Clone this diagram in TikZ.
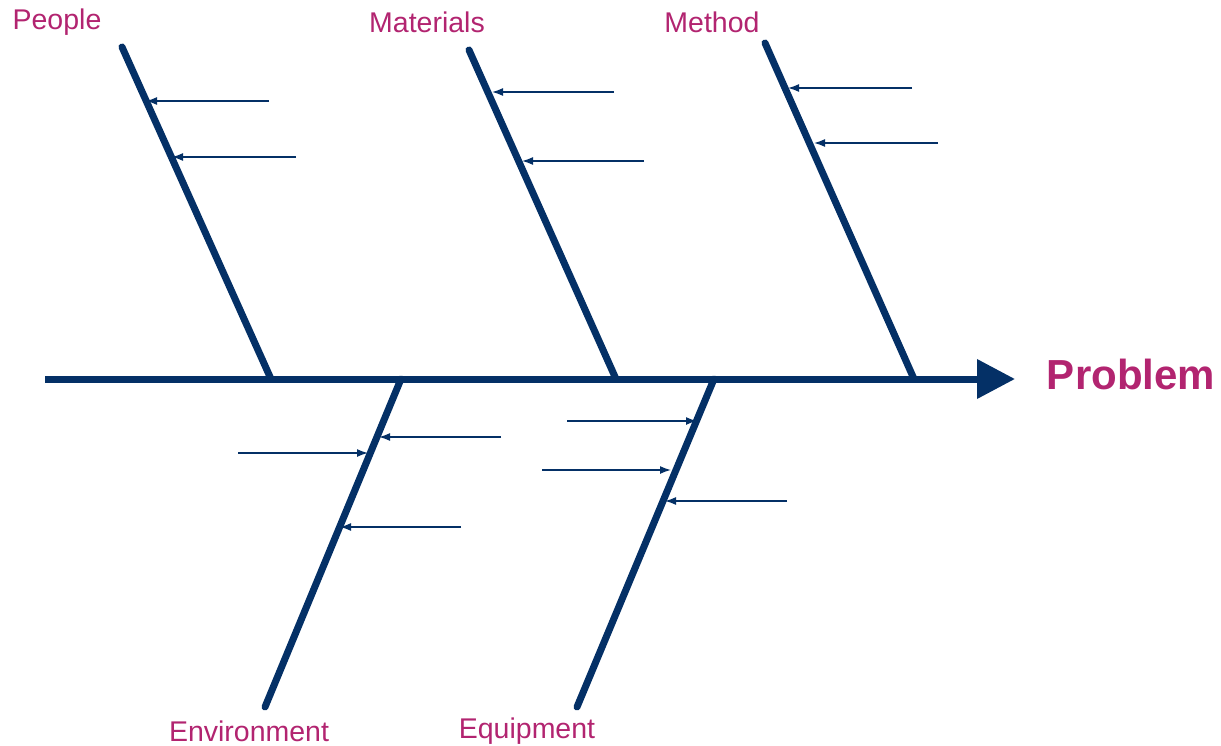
\documentclass[tikz,border=0pt]{standalone}
\usepackage{fontspec}
\setmainfont{Liberation Sans}
\usetikzlibrary{arrows.meta}
\definecolor{navy}{RGB}{4,48,102}
\definecolor{mag}{RGB}{178,36,112}
\begin{document}
\begin{tikzpicture}[x=1pt,y=-1pt,
  bone/.style={draw=navy,line width=7pt,line cap=round},
  spine/.style={draw=navy,line width=7pt,-{Triangle[length=38pt,width=38pt]}},
  cause/.style={draw=navy,line width=1.5pt,-{Latex[length=11pt,width=8pt]}},
  lbl/.style={text=mag,font=\fontsize{28.5}{31}\selectfont,inner sep=0pt},
  prob/.style={text=mag,font=\fontsize{42}{46}\selectfont\bfseries,inner sep=0pt}]
\useasboundingbox (0,0) rectangle (1221,746);
% spine
\coordinate (s0) at (45,379);
\coordinate (s1) at (1015,379);
\draw[spine] (s0) -- (s1);
\node[prob] (problem) at (1131,374) {Problem};
% upper bones
\coordinate (pT) at (122,47);  \coordinate (pB) at (271,379);
\coordinate (mT) at (469,50);  \coordinate (mB) at (616,379);
\coordinate (tT) at (765,43);  \coordinate (tB) at (914,379);
\draw[bone] (pT) -- (pB);
\draw[bone] (mT) -- (mB);
\draw[bone] (tT) -- (tB);
% lower bones
\coordinate (eT) at (401,379); \coordinate (eB) at (265,707);
\coordinate (qT) at (714,379); \coordinate (qB) at (577,707);
\draw[bone] (eT) -- (eB);
\draw[bone] (qT) -- (qB);
% labels
\node[lbl] (people) at (57,22) {People};
\node[lbl] (materials) at (427,22) {Materials};
\node[lbl] (method) at (712,22) {Method};
\node[lbl] (environment) at (249,731) {Environment};
\node[lbl] (equipment) at (527,731) {Equipment};
% cause arrows - People
\coordinate (p1a) at (269,101); \coordinate (p1b) at (146,101);
\coordinate (p2a) at (296,157); \coordinate (p2b) at (172,157);
\draw[cause] (p1a) -- (p1b);
\draw[cause] (p2a) -- (p2b);
% Materials
\coordinate (m1a) at (614,92);  \coordinate (m1b) at (492,92);
\coordinate (m2a) at (644,161); \coordinate (m2b) at (522,161);
\draw[cause] (m1a) -- (m1b);
\draw[cause] (m2a) -- (m2b);
% Method
\coordinate (t1a) at (912,88);  \coordinate (t1b) at (788,88);
\coordinate (t2a) at (938,143); \coordinate (t2b) at (814,143);
\draw[cause] (t1a) -- (t1b);
\draw[cause] (t2a) -- (t2b);
% Environment
\coordinate (e1a) at (501,437); \coordinate (e1b) at (379,437);
\coordinate (e2a) at (238,453); \coordinate (e2b) at (368,453);
\coordinate (e3a) at (461,527); \coordinate (e3b) at (340,527);
\draw[cause] (e1a) -- (e1b);
\draw[cause] (e2a) -- (e2b);
\draw[cause] (e3a) -- (e3b);
% Equipment
\coordinate (q1a) at (567,421); \coordinate (q1b) at (697,421);
\coordinate (q2a) at (542,470); \coordinate (q2b) at (671,470);
\coordinate (q3a) at (787,501); \coordinate (q3b) at (665,501);
\draw[cause] (q1a) -- (q1b);
\draw[cause] (q2a) -- (q2b);
\draw[cause] (q3a) -- (q3b);
\end{tikzpicture}
\end{document}
